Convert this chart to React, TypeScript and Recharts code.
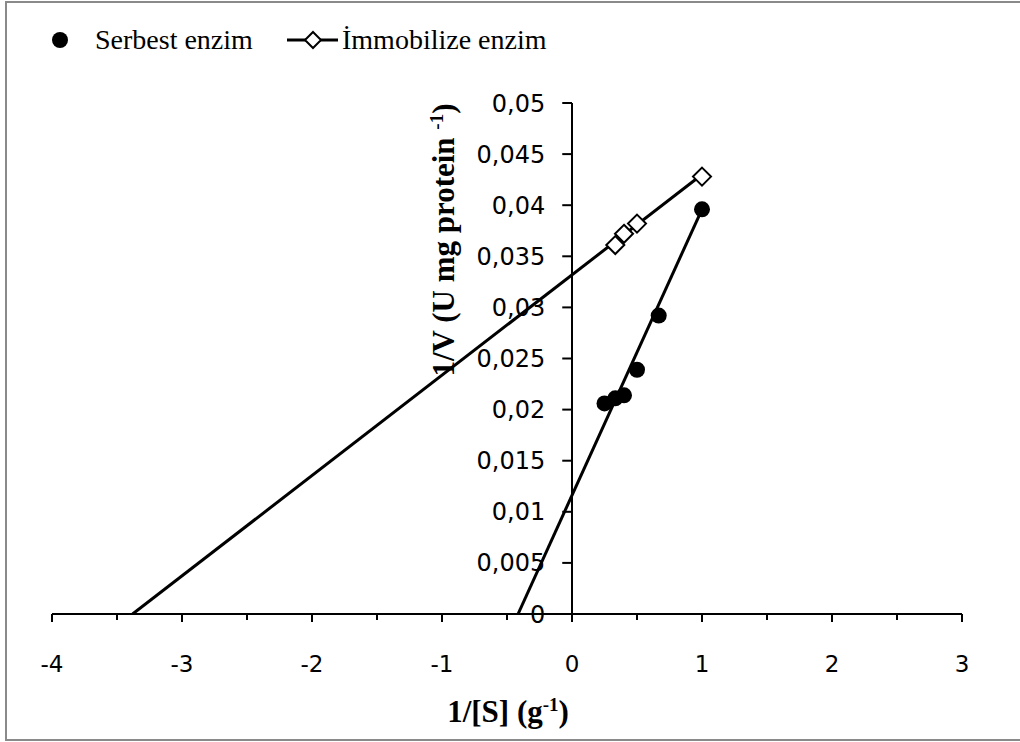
import { Legend, ReferenceLine, Scatter, ScatterChart, XAxis, YAxis } from "recharts";

// 1/[S] and 1/V readings
const serbestX = [0.25, 0.333, 0.4, 0.5, 0.667, 1];
const serbestY = [0.0206, 0.0211, 0.0214, 0.0239, 0.0292, 0.0396];
const immobilizeX = [0.333, 0.4, 0.5, 1];
const immobilizeY = [0.0361, 0.0372, 0.0382, 0.0428];

// linear trendlines (Excel, forecast backward to the x axis)
const serbestTrendX = [-0.415, 1];
const serbestTrendY = [0, 0.0396];
const immobilizeTrendX = [-3.38, 1];
const immobilizeTrendY = [0, 0.043];

const xTicks = [-4, -3.5, -3, -2.5, -2, -1.5, -1, -0.5, 0, 0.5, 1, 1.5, 2, 2.5, 3];
const yTicks = [0, 0.005, 0.01, 0.015, 0.02, 0.025, 0.03, 0.035, 0.04, 0.045, 0.05];
const yTickLabels = ["0", "0,005", "0,01", "0,015", "0,02", "0,025", "0,03", "0,035", "0,04", "0,045", "0,05"];

const zip = (xs: number[], ys: number[]) => xs.map((x, i) => ({ x, y: ys[i] }));

const tickFont = "DejaVu Sans, sans-serif";
const serif = "Liberation Serif, Times New Roman, serif";

function XTick({ x, y, payload }: any) {
  const major = Number.isInteger(payload.value);
  return (
    <g>
      <line x1={x} x2={x} y1={y} y2={y + (major ? 8 : 6)} stroke="#000" strokeWidth={2} />
      {major && (
        <text x={x} y={y + 58} textAnchor="middle" fontSize={23} fontFamily={tickFont} fill="#000">
          {payload.value}
        </text>
      )}
    </g>
  );
}

const Dot = ({ cx, cy }: any) => <circle cx={cx} cy={cy} r={8} fill="#000" />;
const Diamond = ({ cx, cy }: any) => (
  <polygon
    points={`${cx},${cy - 9} ${cx + 9},${cy} ${cx},${cy + 9} ${cx - 9},${cy}`}
    fill="#fff"
    stroke="#000"
    strokeWidth={2}
  />
);
const NoShape = () => <g />;

function LegendBox() {
  return (
    <svg width={600} height={44}>
      <circle cx={20} cy={22} r={8} fill="#000" />
      <text x={55} y={31} fontSize={28} fontFamily={serif} fill="#000">Serbest enzim</text>
      <line x1={247} x2={298} y1={22} y2={22} stroke="#000" strokeWidth={3} />
      <polygon points="273,14 281,22 273,30 265,22" fill="#fff" stroke="#000" strokeWidth={2} />
      <text x={302} y={31} fontSize={28} fontFamily={serif} fill="#000">İmmobilize enzim</text>
    </svg>
  );
}

export default function App() {
  return (
    <div style={{ position: "absolute", left: 0, top: 0, width: 1020, height: 742, background: "#fff", overflow: "hidden" }}>
      <div
        style={{
          position: "absolute",
          left: 5,
          top: 1,
          width: 1015,
          height: 736,
          borderLeft: "2px solid #8a8a8a",
          borderTop: "2px solid #8a8a8a",
          borderBottom: "2px solid #8a8a8a",
        }}
      />
      <div style={{ position: "absolute", left: 0, top: 0 }}>
        <ScatterChart width={1020} height={742} margin={{ top: 103, right: 58, bottom: 68, left: 52 }}>
          <XAxis
            type="number"
            dataKey="x"
            domain={[-4, 3]}
            ticks={xTicks}
            interval={0}
            tickSize={0}
            tickMargin={0}
            tick={<XTick />}
            tickLine={false}
            axisLine={{ stroke: "#000", strokeWidth: 2 }}
            height={60}
            allowDataOverflow
          />
          <YAxis type="number" dataKey="y" domain={[0, 0.05]} hide allowDataOverflow />
          <ReferenceLine
            segment={[{ x: 0, y: 0 }, { x: 0, y: 0.05 }]}
            stroke="#000"
            strokeWidth={2}
          />
          {yTicks.map((v, i) => (
            <ReferenceLine
              key={v}
              segment={[{ x: -0.075, y: v }, { x: 0, y: v }]}
              stroke="#000"
              strokeWidth={2}
              label={{ value: yTickLabels[i], position: "left", offset: 17, fill: "#000", fontSize: 24, fontFamily: tickFont }}
            />
          ))}
          <Scatter
            data={zip(immobilizeTrendX, immobilizeTrendY)}
            line={{ stroke: "#000", strokeWidth: 3 }}
            shape={<NoShape />}
            isAnimationActive={false}
            legendType="none"
          />
          <Scatter
            data={zip(serbestTrendX, serbestTrendY)}
            line={{ stroke: "#000", strokeWidth: 3 }}
            shape={<NoShape />}
            isAnimationActive={false}
            legendType="none"
          />
          <Scatter name="Serbest enzim" data={zip(serbestX, serbestY)} shape={<Dot />} isAnimationActive={false} />
          <Scatter name="İmmobilize enzim" data={zip(immobilizeX, immobilizeY)} shape={<Diamond />} isAnimationActive={false} />
          <Legend
            layout="horizontal"
            verticalAlign="middle"
            align="center"
            wrapperStyle={{ top: 18, left: 40, width: 600 }}
            content={<LegendBox />}
          />
        </ScatterChart>
      </div>
      <div
        style={{
          position: "absolute",
          left: 508,
          top: 712,
          transform: "translate(-50%, -50%)",
          fontFamily: serif,
          fontWeight: "bold",
          fontSize: 31,
          whiteSpace: "nowrap",
        }}
      >
        1/[S] (g<sup style={{ fontSize: 19 }}>-1</sup>)
      </div>
      <div
        style={{
          position: "absolute",
          left: 444,
          top: 240,
          transform: "translate(-50%, -50%) rotate(-90deg)",
          fontFamily: serif,
          fontWeight: "bold",
          fontSize: 31,
          whiteSpace: "nowrap",
        }}
      >
        1/V (U mg protein <sup style={{ fontSize: 19 }}>-1</sup>)
      </div>
    </div>
  );
}
